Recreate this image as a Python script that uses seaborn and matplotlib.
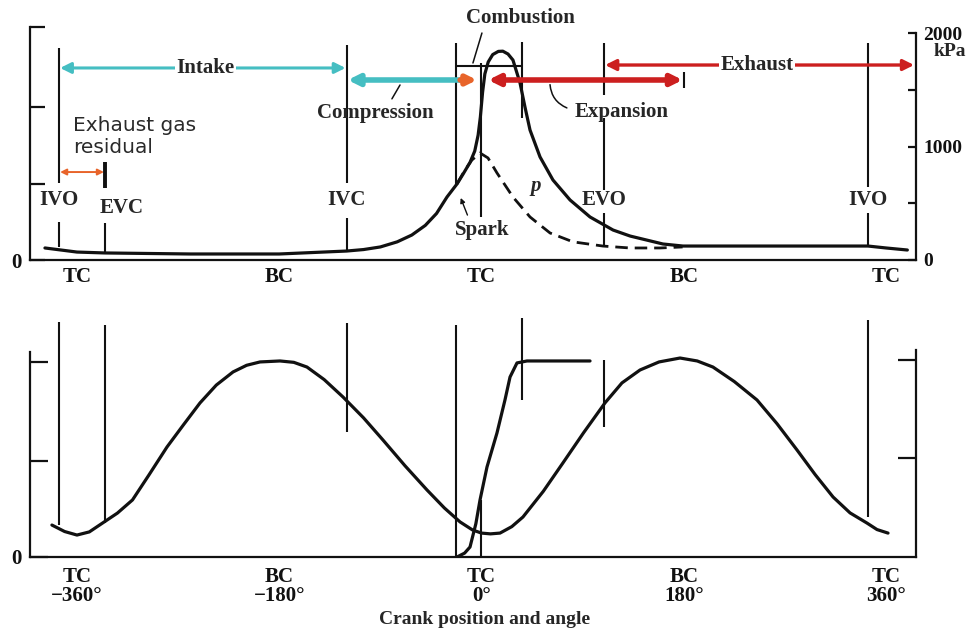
import numpy as np
import pandas as pd
import matplotlib
matplotlib.use("Agg")
import matplotlib.pyplot as plt
import matplotlib.transforms as mtransforms
import seaborn as sns

# ---------------- data ----------------
# firing cylinder pressure, kPa, vs crank angle (deg)
p_deg = [-388.5, -360, -335, -259, -180, -120, -105, -90, -75, -62, -50, -40,
         -30.7, -21.8, -16.5, -10.2, -6, -3, -1, 1, 3, 6, 10, 15, 19, 23.6,
         28.0, 34.3, 38.7, 43.2, 52.1, 63.6, 78.8, 96.6, 117.1, 132.3, 161.5,
         179.3, 212, 266, 319, 344, 360, 379]
p_kpa = [106, 70, 62, 53, 53, 79, 92, 115, 160, 220, 305, 410,
         555, 670, 755, 860, 960, 1100, 1260, 1480, 1640, 1745, 1810, 1838, 1840, 1815,
         1762, 1560, 1348, 1145, 908, 705, 529, 379, 264, 211, 141,
         123, 123, 123, 123, 123, 106, 88]
# motored pressure (dashed), kPa
m_deg = [-21.8, -14.7, -8.5, -1.3, 5.8, 13.8, 28.0, 43.2, 61.0, 81.4, 108, 132, 159, 179]
m_kpa = [670, 793, 881, 943, 899, 767, 555, 379, 238, 160, 123, 106, 106, 115]
# cylinder volume (relative)
v_deg = [-382.3, -371, -360, -349, -337.3, -324, -310.6, -296, -279.9, -265, -250.5,
         -236, -221.1, -209, -197.1, -179.3, -167, -155.3, -140, -123.2, -105,
         -87.7, -68, -48.5, -33, -19.1, -8, 0, 8, 16.5, 27, 36.9, 55, 72.5, 91,
         109.9, 125, 141.1, 158, 176.7, 192, 206, 225, 245.2, 263, 280.8, 297,
         312.9, 328, 343.1, 352, 361.8]
v_rel = [0.163, 0.130, 0.112, 0.128, 0.173, 0.224, 0.291, 0.418, 0.561, 0.676, 0.786,
         0.877, 0.944, 0.978, 0.995, 1.0, 0.993, 0.969, 0.905, 0.816, 0.710,
         0.597, 0.465, 0.342, 0.250, 0.179, 0.138, 0.122, 0.118, 0.122, 0.155, 0.204, 0.335, 0.480, 0.635,
         0.786, 0.888, 0.954, 0.995, 1.015, 1.0, 0.969, 0.895, 0.801, 0.680, 0.546, 0.420,
         0.306, 0.225, 0.173, 0.140, 0.122]
# mass fraction burned
b_deg = [-21.8, -15, -10.2, -5, -1.3, 4.9, 13.8, 20.9, 25.4, 31.6, 40.5, 96.6]
b_frac = [0.0, 0.02, 0.051, 0.17, 0.291, 0.459, 0.633, 0.801, 0.918, 0.990, 1.0, 1.0]

# events (deg)
event_names = ["IVO", "EVC", "IVC", "Spark", "EOC", "EVO", "IVO2"]
event_deg = [-376, -335, -120, -23, 36, 109, 344]
dead_centre_deg = [-360, -180, 0, 180, 360]
top_tick_labels = ["TC", "BC", "TC", "BC", "TC"]
bottom_tick_labels = ["TC\n\u2212360\u00b0", "BC\n\u2212180\u00b0", "TC\n0\u00b0",
                      "BC\n180\u00b0", "TC\n360\u00b0"]
pressure_ticks = [0, 500, 1000, 1500, 2000]
pressure_tick_labels = ["0", "", "1000", "", "2000"]

ev = dict(zip(event_names, event_deg))

# ---------------- style ----------------
sns.set_style("white")
plt.rcParams["font.family"] = ["Liberation Serif", "DejaVu Serif"]
plt.rcParams["font.weight"] = "bold"
plt.rcParams["axes.linewidth"] = 1.6

BLACK = "#111111"
CYAN = "#45BEC2"
RED = "#CC1F1F"
ORANGE = "#E8642A"
FS = 15

fig = plt.figure(figsize=(9.76, 6.36), dpi=100)
XL = (-401.8, 386.7)
ax = fig.add_axes([30 / 976, 376 / 636, 886 / 976, 260 / 636])
axb = fig.add_axes([30 / 976, 79 / 636, 886 / 976, 257 / 636])
for a in (ax, axb):
    a.set_facecolor("none")
    a.set_xlim(*XL)
    a.spines["top"].set_visible(False)
    for s in ("left", "right", "bottom"):
        a.spines[s].set_color(BLACK)
        a.spines[s].set_linewidth(1.6)

# ---------------- top panel ----------------
YT = 2290.9
ax.set_ylim(0, YT)
dfp = pd.DataFrame({"deg": p_deg, "kPa": p_kpa})
dfm = pd.DataFrame({"deg": m_deg, "kPa": m_kpa})
sns.lineplot(data=dfp, x="deg", y="kPa", ax=ax, color=BLACK, lw=2.3,
             sort=False, estimator=None)
sns.lineplot(data=dfm, x="deg", y="kPa", ax=ax, color=BLACK, lw=2.0,
             sort=False, estimator=None)
ax.lines[-1].set_dashes([4.5, 2.5])
ax.set_xlabel("")
ax.set_ylabel("")

ax.set_xticks(dead_centre_deg)
ax.set_xticklabels(top_tick_labels, fontsize=FS, fontweight="bold")
ax.tick_params(axis="x", direction="in", length=7, width=1.6, pad=5, colors=BLACK)
ax.spines["left"].set_bounds(0, 2053)
ax.set_yticks([0, 670, 1348, 2053])
ax.set_yticklabels(["0", "", "", ""], fontsize=FS, fontweight="bold")
ax.tick_params(axis="y", direction="in", length=11, width=1.6, pad=6, colors=BLACK)
ax.spines["right"].set_visible(False)

ax2 = ax.twinx()
ax2.set_ylim(0, YT)
for s in ("top", "left", "bottom"):
    ax2.spines[s].set_visible(False)
ax2.spines["right"].set_bounds(0, 2000)
ax2.spines["right"].set_linewidth(1.6)
ax2.spines["right"].set_color(BLACK)
ax2.set_yticks(pressure_ticks)
ax2.set_yticklabels(pressure_tick_labels, fontsize=FS - 1, fontweight="bold")
ax2.tick_params(axis="y", direction="in", length=6, width=1.6, pad=5, colors=BLACK)
tr = mtransforms.blended_transform_factory(ax.transAxes, ax.transData)
ax.text(1.038, 1833, "kPa", transform=tr, ha="center", va="center",
        fontsize=FS - 1, fontweight="bold")

def vseg(a, x, y0, y1, lw=1.5, color=BLACK):
    a.plot([x, x], [y0, y1], color=color, lw=lw, solid_capstyle="butt")

# vertical event lines (top)
for name, spans in {"IVO": [(1868, 678), (335, 115)],
                    "EVC": [(326, 62)],
                    "IVC": [(1894, 678), (370, 88)],
                    "Spark": [(1912, 661)],
                    "EOC": [(1921, 1251)],
                    "EVO": [(1912, 1454), (1251, 617), (414, 115)],
                    "IVO2": [(1912, 643), (414, 132)]}.items():
    for y0, y1 in spans:
        vseg(ax, ev[name], y0, y1)
vseg(ax, ev["EVC"], 634, 863, lw=2.8)
vseg(ax, dead_centre_deg[2], 379, 1736)
vseg(ax, dead_centre_deg[3], 1515, 1656, lw=1.5)

def arrow(a, x0, x1, y, style, color, lw, ms):
    a.annotate("", xy=(x1, y), xytext=(x0, y),
               arrowprops=dict(arrowstyle=style, color=color, lw=lw,
                               mutation_scale=ms, shrinkA=0, shrinkB=0))

# phase arrows
arrow(ax, ev["IVO"] + 1, ev["IVC"] - 1, 1692, "<|-|>", CYAN, 2.2, 16)
arrow(ax, ev["IVC"] + 1, ev["Spark"] + 4, 1586, "<|-", CYAN, 4.0, 16)
arrow(ax, ev["Spark"] + 4, dead_centre_deg[2] - 4, 1586, "-|>", ORANGE, 4.0, 14)
arrow(ax, dead_centre_deg[2] + 6, dead_centre_deg[3] - 1, 1586, "<|-|>", RED, 4.0, 16)
arrow(ax, ev["EVO"] + 1, ev["EVC"] + 720, 1718, "<|-|>", RED, 2.4, 16)
arrow(ax, ev["IVO"] + 1, ev["EVC"] - 1, 775, "<|-|>", ORANGE, 1.4, 9)
ax.plot([ev["Spark"], ev["EOC"]], [1709, 1709], color=BLACK, lw=1.5)

bb = dict(facecolor="white", edgecolor="none", pad=1.0)
ax.text(-246, 1692, "Intake", ha="center", va="center", fontsize=FS,
        fontweight="bold", bbox=bb)
ax.text(245, 1718, "Exhaust", ha="center", va="center", fontsize=FS,
        fontweight="bold", bbox=bb)
ax.text(-94.8, 1295, "Compression", ha="center", va="center", fontsize=FS,
        fontweight="bold")
ax.text(125, 1304, "Expansion", ha="center", va="center", fontsize=FS,
        fontweight="bold")
ax.text(34.3, 2135, "Combustion", ha="center", va="center", fontsize=FS,
        fontweight="bold")
ax.text(-363.6, 1085, "Exhaust gas\nresidual", ha="left", va="center",
        fontsize=14.5, fontweight="normal", family="DejaVu Sans",
        color="#2a2a2a", linespacing=1.2)
for name, lab, yy in [("IVO", "IVO", 529), ("EVC", "EVC", 458), ("IVC", "IVC", 529),
                      ("EVO", "EVO", 529), ("IVO2", "IVO", 529)]:
    dx = 15 if name == "EVC" else 0
    ax.text(ev[name] + dx, yy, lab, ha="center", va="center", fontsize=FS,
            fontweight="bold")
ax.text(0.5, 264, "Spark", ha="center", va="center", fontsize=FS, fontweight="bold")
ax.text(48.5, 652, "p", ha="center", va="center", fontsize=FS,
        fontweight="bold", style="italic")

# leader lines
ax.plot([0.4, -7.6], [2000, 1736], color=BLACK, lw=1.1)
ax.plot([-72.5, -79.7], [1542, 1420], color=BLACK, lw=1.1)
ax.annotate("", xy=(76, 1340), xytext=(61, 1545),
            arrowprops=dict(arrowstyle="-", color=BLACK, lw=1.1,
                            connectionstyle="arc3,rad=0.3", shrinkA=0, shrinkB=0))
ax.annotate("", xy=(-18.5, 547), xytext=(-12.5, 396),
            arrowprops=dict(arrowstyle="-|>", color=BLACK, lw=1.0,
                            mutation_scale=7, shrinkA=0, shrinkB=0))

# ---------------- bottom panel ----------------
YB = 1.311
axb.set_ylim(0, YB)
dfv = pd.DataFrame({"deg": v_deg, "rel": v_rel})
dfb = pd.DataFrame({"deg": b_deg, "rel": b_frac})
sns.lineplot(data=dfv, x="deg", y="rel", ax=axb, color=BLACK, lw=2.3,
             sort=False, estimator=None)
sns.lineplot(data=dfb, x="deg", y="rel", ax=axb, color=BLACK, lw=2.3,
             sort=False, estimator=None)
axb.set_xlabel("")
axb.set_ylabel("")
axb.set_xticks(dead_centre_deg)
axb.set_xticklabels(bottom_tick_labels, fontsize=FS, fontweight="bold",
                    linespacing=0.95)
axb.tick_params(axis="x", direction="in", length=10, width=1.6, pad=7, colors=BLACK)
axb.spines["left"].set_bounds(0, 1.046)
axb.set_yticks([0, 0.49, 0.995])
axb.set_yticklabels(["0", "", ""], fontsize=FS, fontweight="bold")
axb.tick_params(axis="y", direction="in", length=13, width=1.6, pad=6, colors=BLACK)
axb.spines["right"].set_visible(False)

axb2 = axb.twinx()
axb2.set_ylim(0, YB)
for s in ("top", "left", "bottom"):
    axb2.spines[s].set_visible(False)
axb2.spines["right"].set_bounds(0, 1.056)
axb2.spines["right"].set_linewidth(1.6)
axb2.spines["right"].set_color(BLACK)
axb2.set_yticks([0.505, 1.005])
axb2.set_yticklabels(["", ""])
axb2.tick_params(axis="y", direction="in", length=13, width=1.6, colors=BLACK)

for name, (y0, y1) in {"IVO": (1.199, 0.163), "EVC": (1.184, 0.173),
                       "IVC": (1.194, 0.638), "Spark": (1.184, 0.0),
                       "EOC": (1.219, 0.801), "EVO": (1.005, 0.663),
                       "IVO2": (1.209, 0.204)}.items():
    vseg(axb, ev[name], y0, y1)
vseg(axb, dead_centre_deg[2], 0.0, 0.291)

fig.text(485 / 976, 1 - 619 / 636, "Crank position and angle", ha="center",
         va="center", fontsize=FS - 1, fontweight="bold")

fig.savefig("out.png", dpi=100, facecolor="white")
